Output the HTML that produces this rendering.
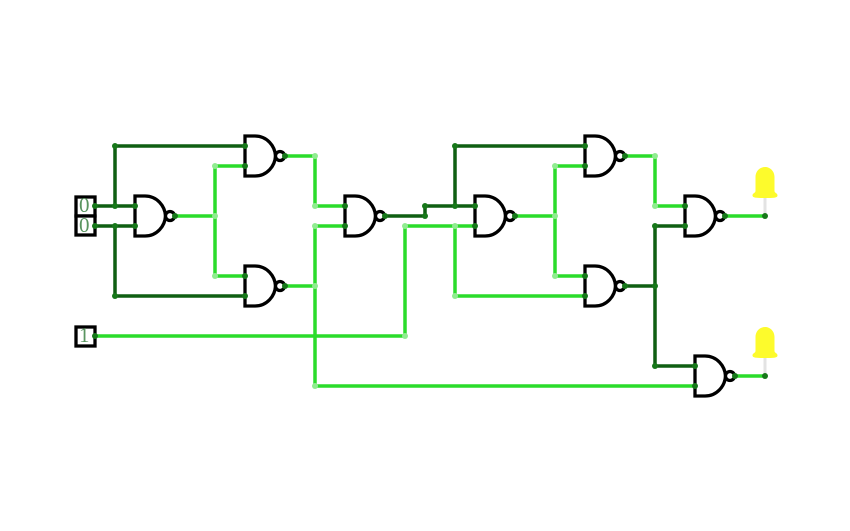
<!DOCTYPE html>
<html>
<head>
<meta charset="utf-8">
<style>
html,body{margin:0;padding:0;background:#fff}
svg{display:block}
.d{stroke:#0f5f12;stroke-width:3.5;fill:none;stroke-linecap:square}
.l{stroke:#2bdc2b;stroke-width:3.5;fill:none;stroke-linecap:square}
.g{fill:none;stroke:#000;stroke-width:3.3}
.dd{fill:#17781a}
.ld{fill:#90ec90}
text{font-family:"Liberation Serif",serif;font-size:21px;fill:#5a9560}
</style>
</head>
<body>
<svg width="850" height="531" viewBox="0 0 850 531" xmlns="http://www.w3.org/2000/svg">
<defs>
<g id="nand">
<path class="g" d="M0 -20H10C22 -20 30 -10 30.500 0C30 10 22 20 10 20H0Z"/>
<circle cx="35" cy="0" r="4.500" fill="#fff" stroke="#000" stroke-width="3.300"/>
</g>
<g id="led">
<path d="M0 -20V-2" stroke="#e3e3e3" stroke-width="3"/>
<path d="M-9.500 -39V-25C-9.500 -23 -12.500 -23 -12.500 -20.500C-12.500 -18 -8 -18 0 -18C8 -18 12.500 -18 12.500 -20.500C12.500 -23 9.500 -23 9.500 -25V-39C9.500 -45 5 -49 0 -49C-5 -49 -9.500 -45 -9.500 -39Z" fill="#fdfb2c"/>
</g>
</defs>

<rect width="850" height="531" fill="#fff"/>

<use href="#led" x="765" y="216"/>
<use href="#led" x="765" y="376"/>

<!-- dark wires -->
<path class="d" d="M95 206H135M95 226H135M115 206V146H245M115 226V296H245"/>
<path class="d" d="M385 216H425V206H475M455 206V146H585"/>
<path class="d" d="M625 286H655M655 226V366M655 226H685M655 366H695"/>

<!-- light wires -->
<path class="l" d="M175 216H215M215 276V166H245M215 276H245"/>
<path class="l" d="M285 156H315V206H345M285 286H315M315 226H345M315 226V386H695"/>
<path class="l" d="M95 336H405V226H475M455 226V296H585"/>
<path class="l" d="M515 216H555M555 276V166H585M555 276H585"/>
<path class="l" d="M625 156H655V206H685"/>
<path class="l" d="M725 216H765M735 376H765"/>

<!-- gates -->
<use href="#nand" x="135" y="216"/>
<use href="#nand" x="245" y="156"/>
<use href="#nand" x="245" y="286"/>
<use href="#nand" x="345" y="216"/>
<use href="#nand" x="475" y="216"/>
<use href="#nand" x="585" y="156"/>
<use href="#nand" x="585" y="286"/>
<use href="#nand" x="685" y="216"/>
<use href="#nand" x="695" y="376"/>

<!-- inputs -->
<rect x="76" y="197" width="19" height="19" fill="#fff" stroke="#000" stroke-width="3.300"/>
<rect x="76" y="216" width="19" height="19" fill="#fff" stroke="#000" stroke-width="3.300"/>
<rect x="76" y="327" width="19" height="19" fill="#fff" stroke="#000" stroke-width="3.300"/>
<text x="79" y="212">0</text>
<text x="79" y="232">0</text>
<text x="79" y="342">1</text>

<!-- dark dots -->
<g class="dd">
<circle cx="95" cy="206" r="3"/><circle cx="95" cy="226" r="3"/><circle cx="95" cy="336" r="3"/>
<circle cx="115" cy="146" r="3"/><circle cx="115" cy="206" r="3"/><circle cx="115" cy="226" r="3"/><circle cx="115" cy="296" r="3"/>
<circle cx="135" cy="206" r="3"/><circle cx="135" cy="226" r="3"/><circle cx="175" cy="216" r="3"/>
<circle cx="245" cy="146" r="3"/><circle cx="245" cy="166" r="3"/><circle cx="245" cy="276" r="3"/><circle cx="245" cy="296" r="3"/>
<circle cx="285" cy="156" r="3"/><circle cx="285" cy="286" r="3"/>
<circle cx="345" cy="206" r="3"/><circle cx="345" cy="226" r="3"/><circle cx="385" cy="216" r="3"/>
<circle cx="425" cy="206" r="3"/><circle cx="425" cy="216" r="3"/>
<circle cx="455" cy="146" r="3"/><circle cx="455" cy="206" r="3"/>
<circle cx="475" cy="206" r="3"/><circle cx="475" cy="226" r="3"/><circle cx="515" cy="216" r="3"/>
<circle cx="585" cy="146" r="3"/><circle cx="585" cy="166" r="3"/><circle cx="585" cy="276" r="3"/><circle cx="585" cy="296" r="3"/>
<circle cx="625" cy="156" r="3"/><circle cx="625" cy="286" r="3"/>
<circle cx="655" cy="226" r="3"/><circle cx="655" cy="286" r="3"/><circle cx="655" cy="366" r="3"/>
<circle cx="685" cy="206" r="3"/><circle cx="685" cy="226" r="3"/><circle cx="725" cy="216" r="3"/>
<circle cx="695" cy="366" r="3"/><circle cx="695" cy="386" r="3"/><circle cx="735" cy="376" r="3"/>
<circle cx="765" cy="216" r="3"/><circle cx="765" cy="376" r="3"/>
</g>

<!-- light dots -->
<g class="ld">
<circle cx="215" cy="166" r="3"/><circle cx="215" cy="216" r="3"/><circle cx="215" cy="276" r="3"/>
<circle cx="315" cy="156" r="3"/><circle cx="315" cy="206" r="3"/><circle cx="315" cy="226" r="3"/><circle cx="315" cy="286" r="3"/><circle cx="315" cy="386" r="3"/>
<circle cx="405" cy="226" r="3"/><circle cx="405" cy="336" r="3"/>
<circle cx="455" cy="226" r="3"/><circle cx="455" cy="296" r="3"/>
<circle cx="555" cy="166" r="3"/><circle cx="555" cy="216" r="3"/><circle cx="555" cy="276" r="3"/>
<circle cx="655" cy="156" r="3"/><circle cx="655" cy="206" r="3"/>
</g>
</svg>
</body>
</html>
